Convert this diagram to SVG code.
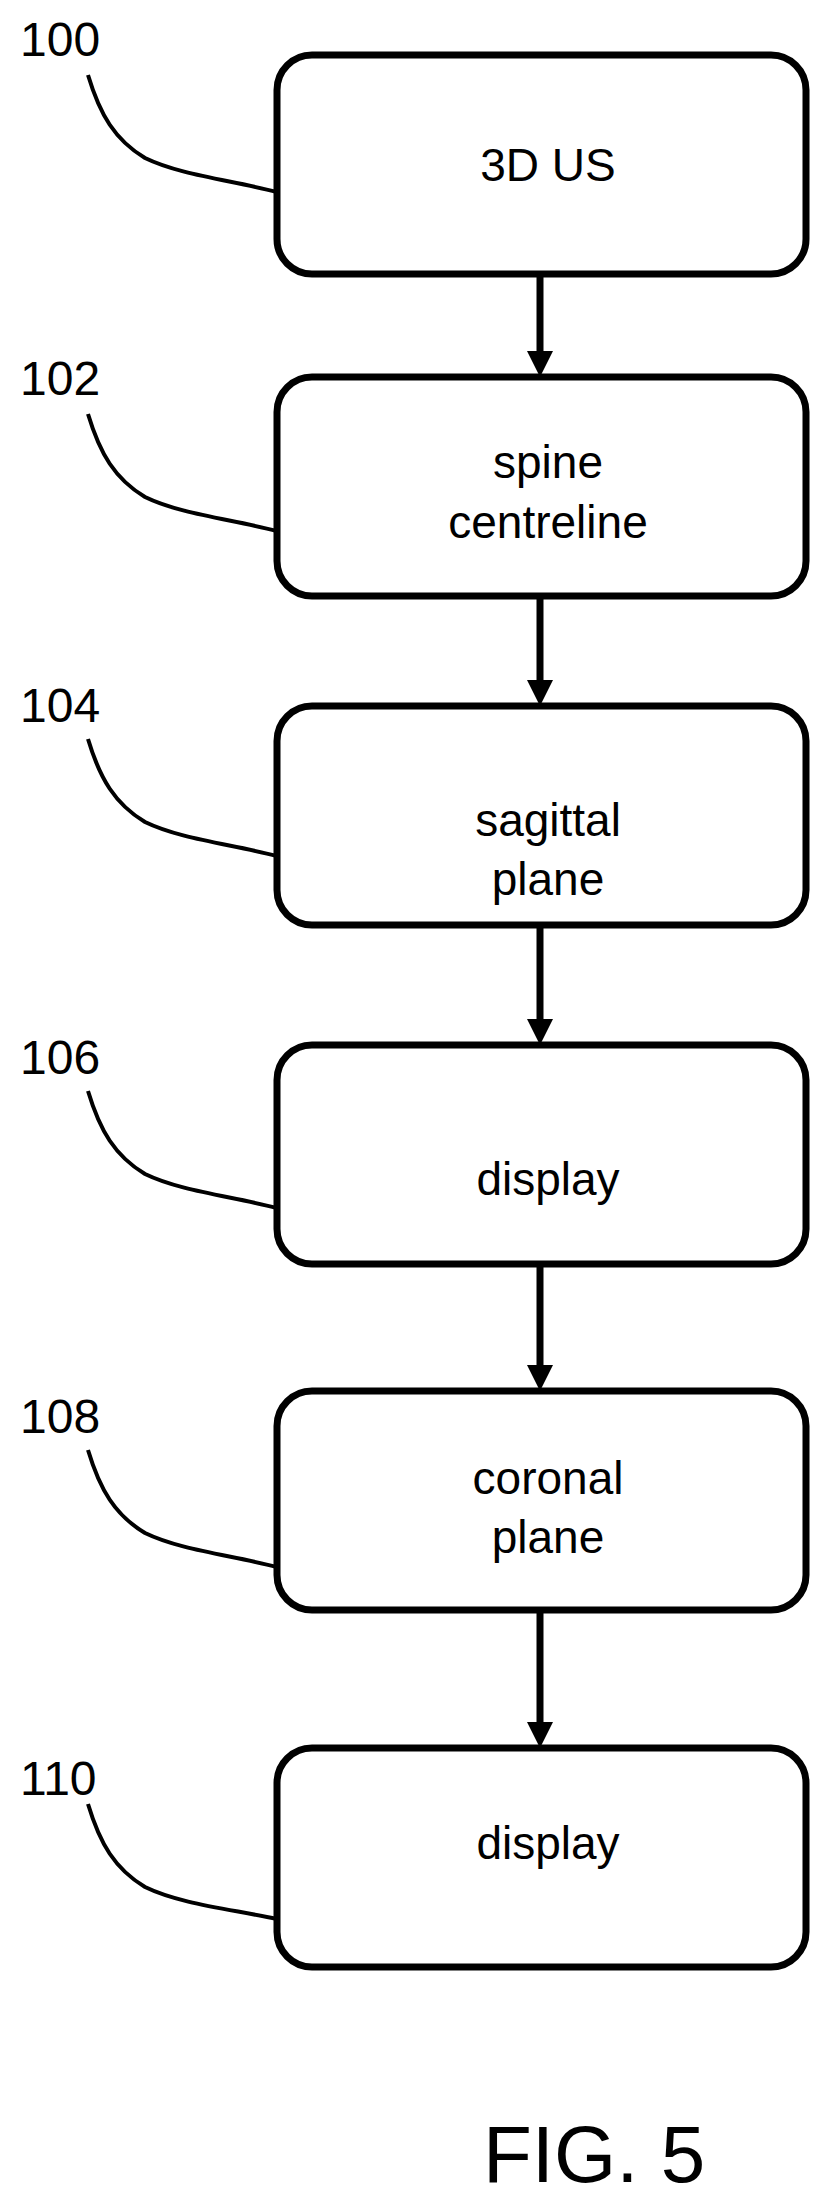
<svg xmlns="http://www.w3.org/2000/svg" width="829" height="2204" viewBox="0 0 829 2204">
<style>
.b{fill:#fff;stroke:#000;stroke-width:7}
.t{font-family:"Liberation Sans",Arial,sans-serif;font-size:46px;text-anchor:middle;fill:#000}
.l{font-family:"Liberation Sans",Arial,sans-serif;font-size:48px;fill:#000}
.c{fill:none;stroke:#000;stroke-width:4}
.a{stroke:#000;stroke-width:7;fill:none}
</style>
<rect width="829" height="2204" fill="#fff"/>
<g id="connectors">
<line class="a" x1="540" y1="275" x2="540" y2="352"/><path d="M527,351 L553,351 L540,377 Z"/>
<line class="a" x1="540" y1="597" x2="540" y2="681"/><path d="M527,680 L553,680 L540,706 Z"/>
<line class="a" x1="540" y1="926" x2="540" y2="1020"/><path d="M527,1019 L553,1019 L540,1045 Z"/>
<line class="a" x1="540" y1="1265" x2="540" y2="1366"/><path d="M527,1365 L553,1365 L540,1391 Z"/>
<line class="a" x1="540" y1="1610" x2="540" y2="1723"/><path d="M527,1722 L553,1722 L540,1748 Z"/>
</g>
<g id="n100"><rect class="b" x="277" y="55" width="529" height="219" rx="35"/><text class="t" x="548" y="181">3D US</text>
<text class="l" x="20" y="56">100</text><path class="c" d="M88,75 C100,115 115,140 145,158 C180,175 230,180 277,192"/></g>
<g id="n102"><rect class="b" x="277" y="377" width="529" height="219" rx="35"/><text class="t" x="548" y="478">spine</text><text class="t" x="548" y="538">centreline</text>
<text class="l" x="20" y="395">102</text><path class="c" d="M88,414 C100,454 115,479 145,497 C180,514 230,519 277,531"/></g>
<g id="n104"><rect class="b" x="277" y="706" width="529" height="219" rx="35"/><text class="t" x="548" y="836">sagittal</text><text class="t" x="548" y="895">plane</text>
<text class="l" x="20" y="722">104</text><path class="c" d="M88,739 C100,779 115,804 145,822 C180,839 230,844 277,856"/></g>
<g id="n106"><rect class="b" x="277" y="1045" width="529" height="219" rx="35"/><text class="t" x="548" y="1195">display</text>
<text class="l" x="20" y="1074">106</text><path class="c" d="M88,1091 C100,1131 115,1156 145,1174 C180,1191 230,1196 277,1208"/></g>
<g id="n108"><rect class="b" x="277" y="1391" width="529" height="219" rx="35"/><text class="t" x="548" y="1494">coronal</text><text class="t" x="548" y="1553">plane</text>
<text class="l" x="20" y="1433">108</text><path class="c" d="M88,1450 C100,1490 115,1515 145,1533 C180,1550 230,1555 277,1567"/></g>
<g id="n110"><rect class="b" x="277" y="1748" width="529" height="219" rx="35"/><text class="t" x="548" y="1859">display</text>
<text class="l" x="20" y="1795">110</text><path class="c" d="M88,1804 C100,1844 115,1869 145,1887 C180,1904 230,1909 277,1919"/></g>
<text x="483" y="2182" style="font-family:'Liberation Sans',Arial,sans-serif;font-size:80px">FIG. 5</text>
</svg>
